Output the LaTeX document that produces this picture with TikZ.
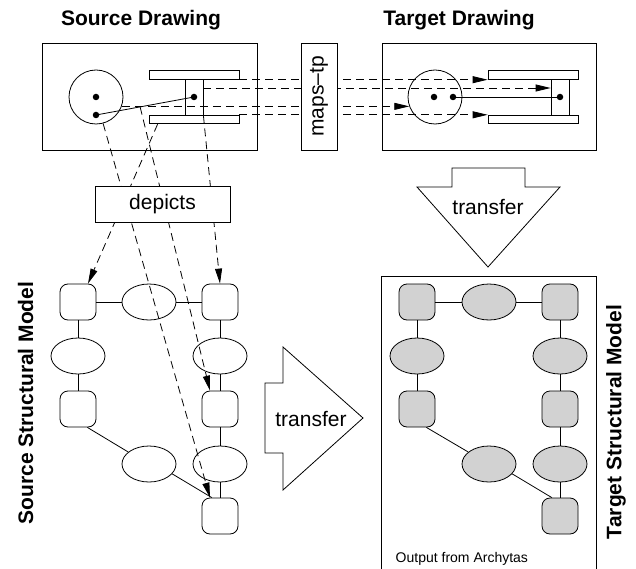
\documentclass[tikz,border=0pt]{standalone}
\usepackage{fontspec}
\setmainfont{Liberation Sans}
\usetikzlibrary{shapes.geometric}
\usetikzlibrary{arrows.meta}
\usetikzlibrary{calc}

\begin{document}
\begin{tikzpicture}[x=1pt,y=-1pt,
  line width=0.8pt,
  blk/.style={draw,rounded corners=8pt,minimum width=36pt,minimum height=36pt,inner sep=0pt},
  gblk/.style={blk,fill=gray!35},
  lnk/.style={draw,ellipse,minimum width=54pt,minimum height=36pt,inner sep=0pt},
  glnk/.style={lnk,fill=gray!35},
  bar/.style={draw,minimum width=90pt,minimum height=8.6pt,inner sep=0pt},
  axl/.style={draw,minimum width=18pt,minimum height=36pt,inner sep=0pt},
  dot/.style={circle,fill,minimum size=6.5pt,inner sep=0pt},
  whl/.style={draw,circle,minimum size=54pt,inner sep=0pt},
  map/.style={->,dash pattern=on 8pt off 5pt},
  lbl/.style={font=\fontsize{21}{25}\selectfont},
  ttl/.style={font=\fontsize{21}{25}\selectfont\bfseries},
]
\tikzset{>={Triangle[length=15pt,width=7pt]}}
\useasboundingbox (0,0) rectangle (636,569);
\node[ttl](stit) at(141,20){Source Drawing};
\node[ttl](ttit) at(459,20){Target Drawing};
\node[draw,minimum width=215pt,minimum height=107pt](sdrw) at(149.5,96.5){};
\node[draw,minimum width=214pt,minimum height=107pt](tdrw) at(489,96.5){};
\node[whl](scir) at(96,97){}; \node[dot](sd1) at(96,97){}; \node[dot](sd2) at(96,115){};
\node[bar](stop) at(194,75){}; \node[bar](sbot) at(194,119.5){};
\node[axl](sax) at(194,97){}; \node[dot](sd3) at(194,97){};
\draw(sd2.center)--(sd3.center);
\node[whl](tcir) at(435,97){}; \node[dot](td1) at(434,97){}; \node[dot](td2) at(453,97){};
\node[bar](ttop) at(533,75){}; \node[bar](tbot) at(533,119.5){};
\node[axl](tax) at(560,97){}; \node[dot](td3) at(560,97){};
\draw(td2.center)--(td3.center);
\draw[map](stop.south east)--(ttop.south west);
\draw[map]([yshift=9pt]sax.east)--([yshift=9pt]tax.west);
\draw[map](scir.-20)--(tcir.200);
\draw[map](sbot.north east)--(tbot.north west);
\node[draw,fill=white,rotate=90,minimum width=107pt,minimum height=36pt,inner sep=0pt,lbl](mtp) at(319,96.5){maps--tp};
\node[blk](sTL) at(78,302){}; \node[lnk](sT) at(149,302){}; \node[blk](sTR) at(220,302){};
\node[lnk](sL2) at(78,356){}; \node[blk](sL3) at(78,409){}; \node[lnk](sM4) at(149,464){};
\node[lnk](sR2) at(220,356){}; \node[blk](sR3) at(220,409){};
\node[lnk](sR4) at(220,464){}; \node[blk](sB) at(220,516){};
\draw(sTL)--(sT)--(sTR); \draw(sTL)--(sL2)--(sL3);
\draw(sL3.-63)--(sM4.150); \draw(sM4.-23)--(sB.114);
\draw(sTR)--(sR2)--(sR3)--(sR4)--(sB);
\coordinate(srod) at($(sd2)!0.45!(sd3)$);
\draw[map](scir.-75)--([xshift=-10pt]sB.north);
\draw[map]([xshift=9pt]sbot.south west)--([xshift=10pt]sTL.north);
\draw[map](srod)--([xshift=-10pt]sR3.north);
\draw[map](sax.south east)--(sTR.north);
\node[draw,fill=white,lbl,minimum width=135pt,minimum height=36pt,inner sep=0pt](dep) at(162.5,204){depicts};
\draw[fill=white](265,383)--(283,383)--(283,347)--(363,418)--(283,490)--(283,453)--(265,453)--cycle;
\node[lbl](xfr1) at(311,419){transfer};
\draw[fill=white](452,168)--(525,168)--(525,187)--(560,187)--(488,267)--(417,187)--(452,187)--cycle;
\node[lbl](xfr2) at(488,207){transfer};
\draw(381,569)|-(596,276)--(596,569);
\node[gblk](tTL) at(417,302){}; \node[glnk](tT) at(489,302){}; \node[gblk](tTR) at(560,302){};
\node[glnk](tL2) at(417,356){}; \node[gblk](tL3) at(417,409){}; \node[glnk](tM4) at(489,464){};
\node[glnk](tR2) at(560,356){}; \node[gblk](tR3) at(560,409){};
\node[glnk](tR4) at(560,464){}; \node[gblk](tB) at(560,516){};
\draw(tTL)--(tT)--(tTR); \draw(tTL)--(tL2)--(tL3);
\draw(tL3.-63)--(tM4.150); \draw(tM4.-23)--(tB.114);
\draw(tTR)--(tR2)--(tR3)--(tR4)--(tB);
\node[font=\fontsize{14}{16}\selectfont,anchor=base west](out) at(392,562){Output from Archytas};
\node[ttl,rotate=90](slab) at(25.5,403){Source Structural Model};
\node[ttl,rotate=90](tlab) at(616,422){Target Structural Model};
\end{tikzpicture}
\end{document}
